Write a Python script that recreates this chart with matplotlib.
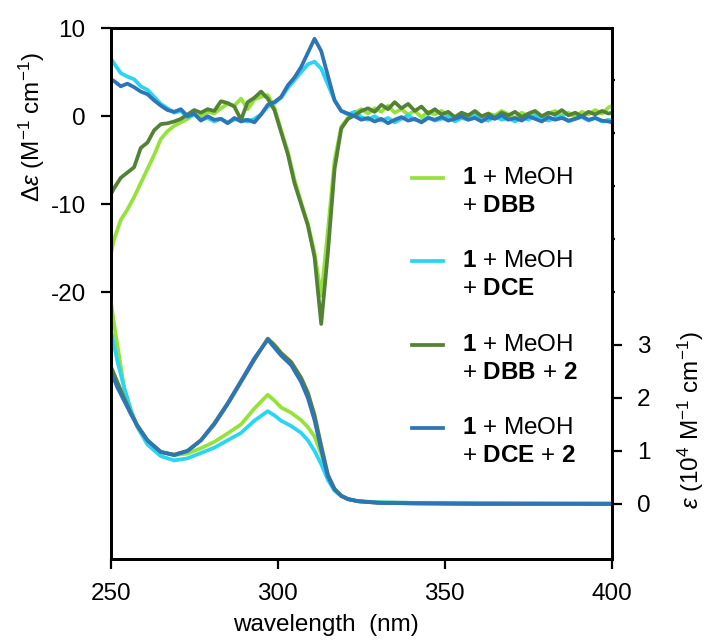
import numpy as np
import matplotlib
matplotlib.use("Agg")
import matplotlib.pyplot as plt

plt.rcParams['font.family'] = ['Liberation Sans', 'DejaVu Sans']
plt.rcParams['mathtext.fontset'] = 'custom'
plt.rcParams['mathtext.rm'] = 'Liberation Sans'
plt.rcParams['mathtext.it'] = 'Liberation Sans:italic'
plt.rcParams['mathtext.bf'] = 'Liberation Sans:bold'
plt.rcParams['axes.unicode_minus'] = False

# CD data (delta epsilon, M-1 cm-1), 249..401 nm every 2 nm
wl_cd = np.arange(249, 402, 2)
cd_dbb = [-17.5, -14.0, -11.8, -10.6, -9.2, -7.6, -6.0, -4.4, -2.6, -1.7,
          -1.1, -0.7, -0.3, 0.2, 0.0, 0.5, 0.3, 0.9, 1.4, 1.2,
          2.0, 0.8, 1.9, 2.2, 2.4, 1.0, -1.6, -4.0, -7.2, -9.8,
          -12.2, -15.5, -20.4, -13.0, -5.0, -1.2, -0.2, 0.4, 0.8, 0.3,
          0.9, 0.5, 1.2, 0.4, 0.8, 0.2, 0.6, -0.1, 0.5, 0.2,
          0.6, 0.1, -0.2, 0.4, 0.0, 0.5, -0.3, 0.3, 0.1, 0.6,
          0.2, -0.2, 0.4, 0.0, 0.5, -0.1, 0.3, 0.6, 0.1, 0.4,
          -0.1, 0.5, 0.2, 0.7, 0.3, 1.0, 1.3]
cd_dce = [7.2, 6.0, 4.9, 4.5, 4.2, 3.4, 3.0, 2.2, 1.4, 0.9,
          0.4, 0.6, -0.1, 0.2, -0.4, -0.2, -0.6, -0.3, -0.7, -0.4,
          -0.2, -0.6, -0.3, 0.2, 1.1, 1.5, 2.1, 3.2, 4.1, 5.0,
          5.9, 6.2, 5.4, 3.6, 1.8, 0.6, 0.2, 0.5, -0.1, -0.4,
          0.0, -0.5, -0.2, -0.7, -0.3, 0.1, -0.4, -0.6, -0.1, -0.5,
          -0.3, 0.0, -0.6, -0.2, -0.4, 0.2, -0.3, -0.5, 0.0, -0.4,
          -0.2, -0.6, -0.1, -0.4, 0.1, -0.3, -0.5, -0.2, 0.0, -0.6,
          -0.3, -0.1, -0.5, -0.2, -0.6, -0.4, -0.7]
cd_dbb2 = [-9.6, -8.2, -7.0, -6.4, -5.8, -3.6, -3.0, -1.6, -0.9, -0.8,
           -0.6, -0.3, 0.2, 0.7, 0.4, 0.8, 0.6, 1.7, 1.5, 1.1,
           -0.4, 1.6, 2.1, 2.8, 2.0, 0.7, -1.8, -4.3, -7.6, -10.0,
           -12.4, -16.0, -23.6, -15.5, -6.0, -1.4, -0.3, 0.1, 0.6, 0.9,
           0.5, 1.3, 0.8, 1.6, 0.9, 1.4, 0.6, 1.1, 0.3, 0.8,
           0.2, 0.5, -0.1, 0.4, 0.1, 0.6, 0.0, 0.3, -0.2, 0.4,
           0.1, 0.5, -0.1, 0.3, 0.6, 0.0, 0.4, 0.2, 0.7, 0.1,
           0.4, 0.0, 0.5, 0.2, 0.6, 0.3, 0.5]
cd_dce2 = [4.4, 4.0, 3.4, 3.7, 3.3, 2.8, 2.5, 1.8, 1.2, 0.7,
           0.5, 0.8, 0.0, 0.3, -0.5, 0.0, -0.4, -0.3, -0.8, -0.2,
           -0.6, -0.4, -0.7, 0.2, 1.3, 1.6, 2.2, 3.5, 4.4, 5.6,
           7.2, 8.8, 7.4, 4.6, 1.8, 0.6, 0.3, 0.0, -0.4, -0.2,
           -0.6, -0.3, -0.8, -0.4, -0.1, -0.5, -0.3, -0.7, -0.2, -0.4,
           -0.1, -0.5, -0.3, 0.0, -0.4, -0.2, -0.6, -0.1, -0.3, 0.1,
           -0.4, -0.2, -0.5, 0.0, -0.3, -0.6, -0.1, -0.4, -0.2, -0.5,
           -0.3, 0.0, -0.4, -0.2, -0.5, -0.6, -0.8]

# absorption data (epsilon, 10^4 M-1 cm-1)
wl_abs = [250, 251, 252, 254, 256, 258, 261, 265, 269, 273, 277, 281, 285, 289, 293, 297,
          299, 301, 304, 307, 309, 311, 313, 315, 317, 319, 321, 324, 330, 340, 360, 380, 400]
ab_dbb = [3.85, 3.4, 3.0, 2.2, 1.75, 1.45, 1.15, 0.98, 0.92, 0.95, 1.05, 1.17, 1.33, 1.5, 1.8, 2.06,
          1.95, 1.82, 1.72, 1.58, 1.45, 1.27, 0.95, 0.5, 0.28, 0.16, 0.09, 0.05, 0.03, 0.02, 0.01, 0.01, 0.0]
ab_dce = [3.3, 3.0, 2.7, 2.2, 1.78, 1.45, 1.12, 0.9, 0.82, 0.86, 0.96, 1.06, 1.2, 1.34, 1.57, 1.75,
          1.67, 1.57, 1.47, 1.34, 1.2, 1.0, 0.75, 0.45, 0.25, 0.15, 0.09, 0.05, 0.03, 0.02, 0.02, 0.01, 0.01]
ab_dbb2 = [2.6, 2.45, 2.3, 2.0, 1.72, 1.48, 1.2, 0.98, 0.93, 1.0, 1.2, 1.5, 1.88, 2.3, 2.72, 3.12,
           3.0, 2.85, 2.68, 2.38, 2.1, 1.68, 1.1, 0.55, 0.28, 0.15, 0.09, 0.05, 0.02, 0.01, 0.0, 0.0, 0.0]
ab_dce2 = [2.5, 2.35, 2.2, 1.95, 1.7, 1.47, 1.2, 0.98, 0.92, 1.0, 1.2, 1.52, 1.9, 2.32, 2.75, 3.1,
           2.95, 2.8, 2.62, 2.3, 2.0, 1.58, 1.02, 0.52, 0.27, 0.15, 0.09, 0.05, 0.02, 0.01, 0.0, 0.0, 0.0]

colors = ['#96e23c', '#2ad4f4', '#548235', '#2e75b6']
labels = [(r'$\mathbf{1}$ + MeOH', r'+ $\mathbf{DBB}$'),
          (r'$\mathbf{1}$ + MeOH', r'+ $\mathbf{DCE}$'),
          (r'$\mathbf{1}$ + MeOH', r'+ $\mathbf{DBB}$ + $\mathbf{2}$'),
          (r'$\mathbf{1}$ + MeOH', r'+ $\mathbf{DCE}$ + $\mathbf{2}$')]
cd_all = [cd_dbb, cd_dce, cd_dbb2, cd_dce2]
ab_all = [ab_dbb, ab_dce, ab_dbb2, ab_dce2]

fs = 17.5
lw = 2.7

fig = plt.figure(figsize=(7.05, 6.41), dpi=100)
ax = fig.add_axes([0.157, 0.128, 0.711, 0.828])
ax2 = ax.twinx()

for cd, ab, c in zip(cd_all, ab_all, colors):
    ax.plot(wl_cd, cd, color=c, lw=lw, solid_joinstyle='round')
    ax2.plot(wl_abs, ab, color=c, lw=lw, solid_joinstyle='round')

ax2.set_ylim(-1.04, 8.98)

# axes style
for a in (ax, ax2):
    for s in a.spines.values():
        s.set_linewidth(2)
ax.set_xticks([250, 300, 350, 400])
ax.set_yticks([10, 0, -10, -20])
ax.tick_params(axis='both', direction='out', length=7, width=1.6, labelsize=fs, pad=11)
ax.tick_params(axis='x', pad=10)
ax2.set_yticks([0, 1, 2, 3])
ax2.set_yticks([4, 5, 6, 7, 8], minor=True)
ax2.tick_params(axis='y', which='major', direction='out', length=7, width=1.6, labelsize=fs, pad=11)
ax2.tick_params(axis='y', which='minor', direction='out', length=2.5, width=1.6)

# axis labels
ax.text(-0.158, 0.814, r'$\Delta\varepsilon$ (M$^{-1}$ cm$^{-1}$)', transform=ax.transAxes,
        rotation=90, ha='center', va='center', fontsize=fs)
ax.text(1.158, 0.262, r'$\varepsilon$ (10$^4$ M$^{-1}$ cm$^{-1}$)', transform=ax.transAxes,
        rotation=90, ha='center', va='center', fontsize=fs)
ax.text(0.429, -0.124, 'wavelength  (nm)', transform=ax.transAxes,
        ha='center', va='center', fontsize=fs)

# legend, drawn by hand
ys = [0.7175, 0.561, 0.404, 0.247]
for y, c, (l1, l2) in zip(ys, colors, labels):
    ax.plot([0.601, 0.663], [y, y], transform=ax.transAxes, color=c, lw=lw, clip_on=False)
    ax.text(0.7006, y, l1, transform=ax.transAxes, ha='left', va='center', fontsize=fs)
    ax.text(0.7006, y - 0.053, l2, transform=ax.transAxes, ha='left', va='center', fontsize=fs)

ax.set_xlim(250, 400)
ax.set_ylim(-50.3, 10)

fig.savefig('out.png', dpi=100)
